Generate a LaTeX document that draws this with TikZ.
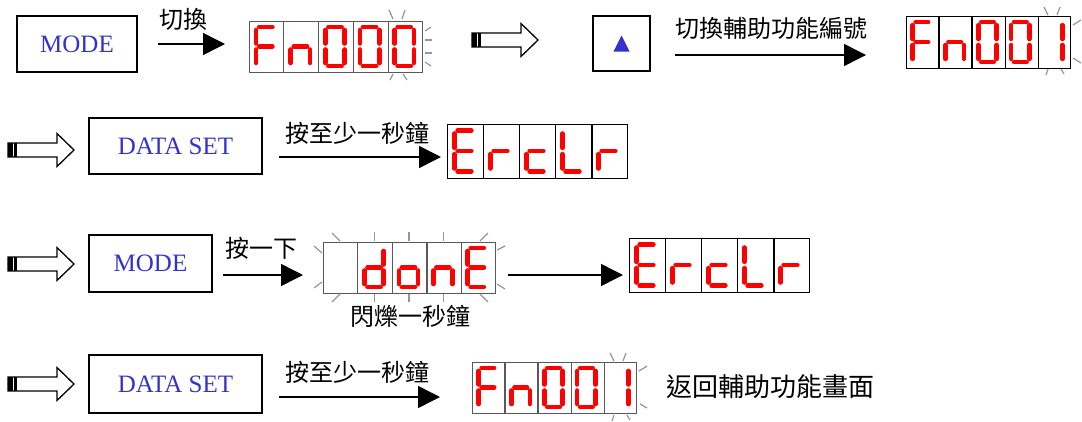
\documentclass[tikz,border=0pt]{standalone}
\usepackage{fontspec}
\setmainfont{Liberation Serif}
\newfontfamily\cjk{Noto Sans CJK TC}
\usetikzlibrary{arrows.meta,calc}
\definecolor{segred}{RGB}{255,0,0}
\definecolor{txtblue}{RGB}{51,51,204}
\definecolor{flash}{RGB}{150,150,150}
\tikzset{
  keybox/.style={draw=black, line width=1.3pt, inner sep=0pt, text=txtblue, font=\fontsize{25}{25}\selectfont},
  cjktext/.style={font=\cjk\fontsize{24}{24}\selectfont, inner sep=0pt},
  arr/.style={line width=1.5pt, -{Triangle[length=22pt,width=22pt]}},
  seg/.style={line width=4.6pt, line cap=round, draw=segred},
  frame/.style={line width=1.2pt},
  tick/.style={draw=flash, line width=1.2pt},
  blk/.style={draw=black, line width=1.3pt, fill=white},
}
\def\sga{(10,6)--(23,6)}
\def\sgb{(26,9)--(26,22.5)}
\def\sgc{(26,28.5)--(26,42)}
\def\sgd{(10,45)--(23,45)}
\def\sge{(7,28.5)--(7,42)}
\def\sgf{(7,9)--(7,22.5)}
\def\sgg{(10,25.5)--(23,25.5)}
\def\sgx{}
\newcommand\drawseg[1]{\draw[seg] #1;}
\newcommand\sevseg[5]{%
  \begin{scope}[shift={(#1,#2)}, xscale=#3/34, yscale=#4/51]
    \foreach \s in {#5} {\expandafter\drawseg\csname sg\s\endcsname}
  \end{scope}}
\newcommand\digs[9]{%
  \sevseg{#1}{#2}{#3/5}{#4}{#5}%
  \sevseg{#1+#3/5}{#2}{#3/5}{#4}{#6}%
  \sevseg{#1+2*#3/5}{#2}{#3/5}{#4}{#7}%
  \sevseg{#1+3*#3/5}{#2}{#3/5}{#4}{#8}%
  \sevseg{#1+4*#3/5}{#2}{#3/5}{#4}{#9}}
\newcommand\dispframe[6]{%
  \node[draw=#6, frame, minimum width=#4pt, minimum height=#5pt, inner sep=0pt, anchor=north west] (#1) at (#2,#3) {};
  \foreach \i in {1,...,4} {\draw[draw=#6, frame] ($(#1.north west)!\i/5!(#1.north east)$) -- ($(#1.south west)!\i/5!(#1.south east)$);}}
\newcommand\blockarrow[3]{%
  \coordinate (#1) at (#2,#3);
  \draw[blk] ($(#1)+(0,-7)$) -- ($(#1)+(49,-7)$) -- ($(#1)+(49,-16.5)$) -- ($(#1)+(66,0)$) -- ($(#1)+(49,16.5)$) -- ($(#1)+(49,7)$) -- ($(#1)+(0,7)$) -- cycle;
  \fill[black] ($(#1)+(0,-7)$) rectangle ($(#1)+(4.5,7)$);
  \fill[black] ($(#1)+(6,-7)$) rectangle ($(#1)+(9,7)$);}
\begin{document}
\begin{tikzpicture}[x=1pt,y=-1pt]
\useasboundingbox[fill=white] (0,0) rectangle (1082,421);

% ---------- Row 1
\node[keybox, minimum width=120pt, minimum height=56pt] (mode1) at (77,44) {MODE};
\node[cjktext] (t1) at (183,19) {切換};
\coordinate (a1s) at (158,44); \coordinate (a1e) at (225,44);
\draw[arr] (a1s) -- (a1e);
\dispframe{d1}{249}{21}{173}{51}{black!65}
\digs{249}{21}{173}{51}{a,e,f,g}{c,e,g}{a,b,c,d,e,f}{a,b,c,d,e,f}{a,b,c,d,e,f}
\draw[tick] (389,10) -- (393,19);
\draw[tick] (405,10) -- (402,19);
\draw[tick] (425,31) -- (431,27);
\draw[tick] (425,40) -- (432,40);
\draw[tick] (425,53) -- (432,53);
\draw[tick] (425,62) -- (431,66);
\draw[tick] (393,74) -- (390,80);
\draw[tick] (403,74) -- (407,80);

\blockarrow{b1}{472}{40}
\node[keybox, minimum width=57pt, minimum height=55pt] (up) at (621.5,43.5) {};
\fill[txtblue] ($(up.center)+(-8,8)$) -- ($(up.center)+(8,8)$) -- ($(up.center)+(0,-8)$) -- cycle;
\node[cjktext] (t2) at (771,28) {切換輔助功能編號};
\coordinate (a2s) at (675,55); \coordinate (a2e) at (866,55);
\draw[arr] (a2s) -- (a2e);
\dispframe{d2}{906}{16}{164}{52}{black}
\digs{906}{16}{164}{52}{a,e,f,g}{c,e,g}{a,b,c,d,e,f}{a,b,c,d,e,f}{b,c}
\draw[tick] (1044,7) -- (1048,15);
\draw[tick] (1060,7) -- (1057,15);
\draw[tick] (1073,25) -- (1081,20);
\draw[tick] (1073,58) -- (1081,63);
\draw[tick] (1048,69) -- (1046,75);
\draw[tick] (1061,69) -- (1064,74);

% ---------- Row 2
\blockarrow{b2}{8}{150}
\node[keybox, minimum width=173pt, minimum height=56pt] (ds1) at (175.5,146) {DATA SET};
\node[cjktext] (t3) at (357,133) {按至少一秒鐘};
\coordinate (a3s) at (279,157); \coordinate (a3e) at (441,157);
\draw[arr] (a3s) -- (a3e);
\dispframe{d3}{447}{124}{180}{54}{black}
\digs{447}{124}{180}{54}{a,d,e,f,g}{e,g}{d,e,g}{d,e,f}{e,g}

% ---------- Row 3
\blockarrow{b3}{8}{264}
\node[keybox, minimum width=123pt, minimum height=57pt] (mode2) at (150.5,263.5) {MODE};
\node[cjktext] (t4) at (261,248) {按一下};
\coordinate (a4s) at (223,275); \coordinate (a4e) at (303,275);
\draw[arr] (a4s) -- (a4e);
\dispframe{d4}{323}{242}{172}{51}{black!65}
\digs{323}{242}{172}{51}{x}{b,c,d,e,g}{c,d,e,g}{c,e,g}{a,d,e,f,g}
\foreach \xx in {374.6,409,443.4} {\draw[tick] (\xx,232) -- (\xx,241); \draw[tick] (\xx,294) -- (\xx,302);}
\draw[tick] (332,233) -- (340,241);
\draw[tick] (314,246) -- (322,253);
\draw[tick] (314,288) -- (322,282);
\draw[tick] (332,302) -- (340,294);
\draw[tick] (480,241) -- (488,233);
\draw[tick] (497,250) -- (505,246);
\draw[tick] (497,284) -- (505,289);
\draw[tick] (480,294) -- (488,302);
\node[cjktext] (t5) at (410,316) {閃爍一秒鐘};
\coordinate (a5s) at (508,275); \coordinate (a5e) at (623,275);
\draw[arr] (a5s) -- (a5e);
\dispframe{d5}{629}{238}{180}{54}{black}
\digs{629}{238}{180}{54}{a,d,e,f,g}{e,g}{d,e,g}{d,e,f}{e,g}

% ---------- Row 4
\blockarrow{b4}{8}{384}
\node[keybox, minimum width=173pt, minimum height=58pt] (ds2) at (175.5,384) {DATA SET};
\node[cjktext] (t6) at (357,372) {按至少一秒鐘};
\coordinate (a6s) at (279,397); \coordinate (a6e) at (440,397);
\draw[arr] (a6s) -- (a6e);
\dispframe{d6}{472}{362}{164}{51}{black!65}
\digs{472}{362}{164}{51}{a,e,f,g}{c,e,g}{a,b,c,d,e,f}{a,b,c,d,e,f}{b,c}
\draw[tick] (610,353) -- (614,361);
\draw[tick] (626,353) -- (623,361);
\draw[tick] (639,371) -- (647,366);
\draw[tick] (640,404) -- (647,408);
\draw[tick] (614,415) -- (612,421);
\draw[tick] (627,415) -- (630,420);
\node[cjktext, font=\cjk\fontsize{26}{26}\selectfont] (t7) at (770,387) {返回輔助功能畫面};
\end{tikzpicture}
\end{document}
